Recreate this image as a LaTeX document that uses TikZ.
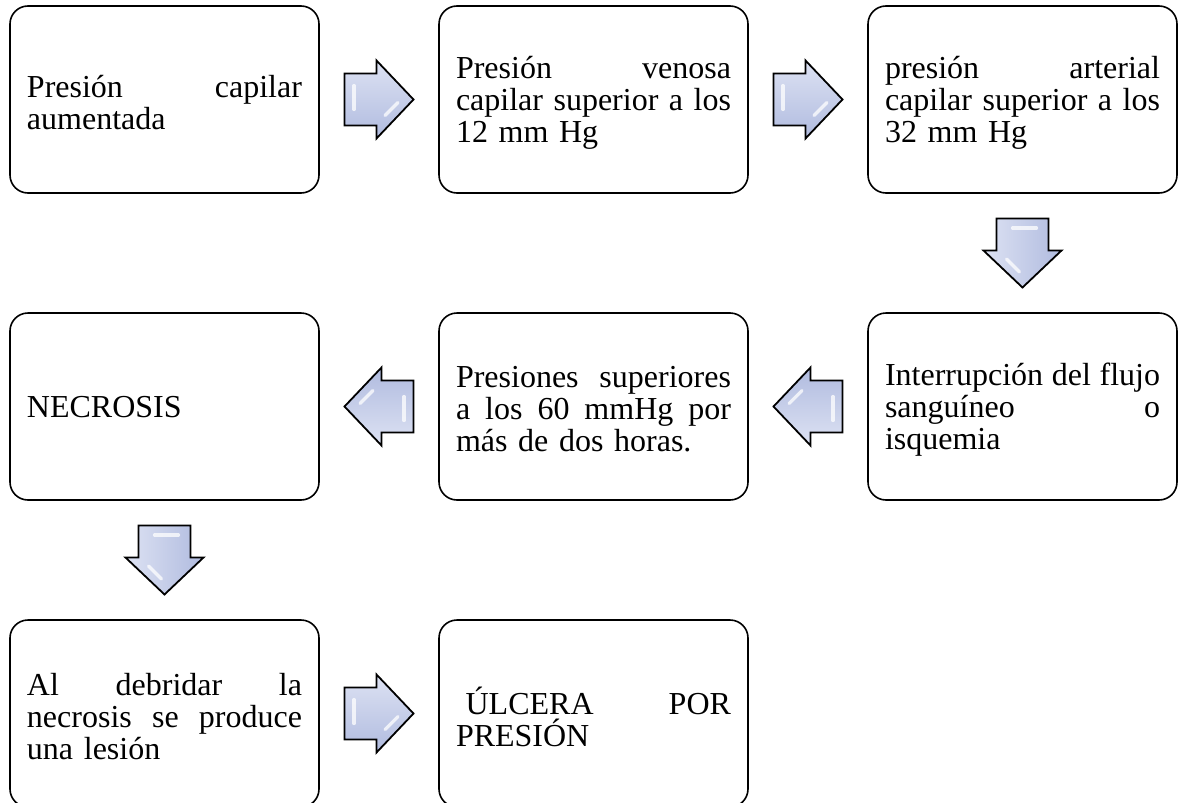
\documentclass[tikz,border=0pt]{standalone}
\usepackage{fontspec}
\setmainfont{Liberation Serif}
\usepackage{tikz}
\usetikzlibrary{
	positioning
}
\definecolor{arrowTop}{HTML}{DDE2F3}
\definecolor{arrowBot}{HTML}{B0BBDF}

\begin{document}
\begin{tikzpicture}[
			box/.style={rectangle, draw=black, line width=0.8pt, rounded corners=9pt,
				minimum width=154.5pt, minimum height=93.5pt, text width=137.5pt,
				inner xsep=8.5pt, inner ysep=0pt, outer sep=0, align=left,
				font=\fontsize{16}{16}\selectfont,
				execute at end node={\endgraf\vspace*{-3pt}}},
			arrowFill/.style={draw=black, line width=0.9pt, line join=miter,
				top color=arrowTop, bottom color=arrowBot},
			bevel/.style={white, line width=1.6pt, line cap=round, opacity=0.75},
			blkArrow/.pic={
				\begin{scope}[x=1pt, y=1pt]
					\draw[arrowFill, shading angle=#1] (-17.25,13) -- (-1.25,13) -- (-1.25,19.5) -- (17.25,0)
						-- (-1.25,-19.5) -- (-1.25,-13) -- (-17.25,-13) -- cycle;
					\draw[bevel] (-12.5,7) -- (-12.5,-5);
					\draw[bevel] (3,-8) -- (9.5,-1.5);
				\end{scope}
			},
			node distance=60pt]

			\useasboundingbox (-5pt,3pt) rectangle (584pt,-398.5pt);

			\node[box, anchor=north west] (capil) at (0,0) {Presión\hfill capilar\\aumentada};
			\node[box, right=of capil] (venosa) {Presión\hfill venosa\\capilar\hfill superior\hfill a\hfill los\\12 mm Hg};
			\node[box, right=of venosa] (arterial) {presión\hfill arterial\\capilar\hfill superior\hfill a\hfill los\\32 mm Hg};

			\node[box, below=of arterial] (isquemia) {Interrupción\hfill del\hfill flujo\\sanguíneo\hfill o\\isquemia};
			\node[box, left=of isquemia] (sesenta) {Presiones\hfill superiores\\a\hfill los\hfill 60\hfill mmHg\hfill por\\más de dos horas.};
			\node[box, left=of sesenta] (necrosis) {NECROSIS};

			\node[box, below=of necrosis] (debrid) {Al\hfill debridar\hfill la\\necrosis\hfill se\hfill produce\\una lesión};
			\node[box, right=of debrid] (ulcera) {\hspace*{0.3em}ÚLCERA\hfill POR\\PRESIÓN};

			\path (capil) -- coordinate[midway] (mCV) (venosa);
			\path (venosa) -- coordinate[midway] (mVA) (arterial);
			\path (arterial) -- coordinate[midway] (mAI) (isquemia);
			\path (isquemia) -- coordinate[midway] (mIS) (sesenta);
			\path (sesenta) -- coordinate[midway] (mSN) (necrosis);
			\path (necrosis) -- coordinate[midway] (mND) (debrid);
			\path (debrid) -- coordinate[midway] (mDU) (ulcera);

			\pic (aCV) at (mCV) {blkArrow=0};
			\pic (aVA) at (mVA) {blkArrow=0};
			\pic[rotate=-90] (aAI) at (mAI) {blkArrow=90};
			\pic[rotate=180] (aIS) at (mIS) {blkArrow=180};
			\pic[rotate=180] (aSN) at (mSN) {blkArrow=180};
			\pic[rotate=-90] (aND) at (mND) {blkArrow=90};
			\pic (aDU) at (mDU) {blkArrow=0};
		\end{tikzpicture}
\end{document}
